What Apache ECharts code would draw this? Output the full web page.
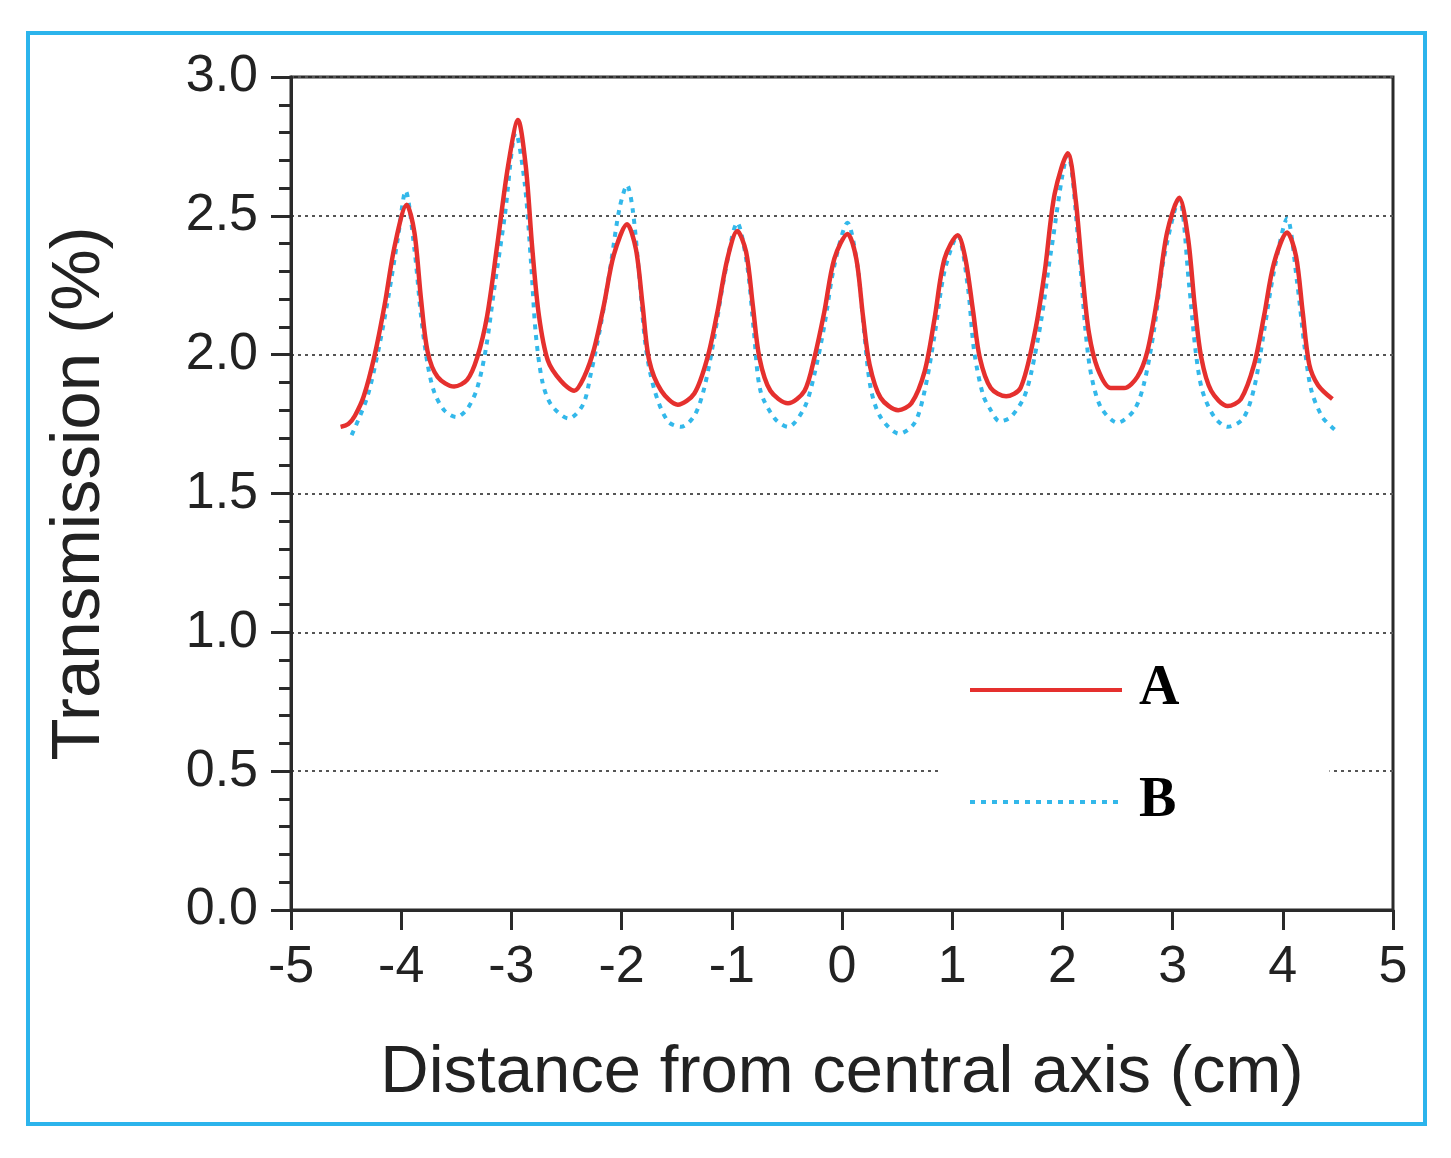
<!DOCTYPE html>
<html lang="en">
<head>
    <meta charset="UTF-8">
    <title>Transmission</title>
    <script src="https://cdn.jsdelivr.net/npm/echarts@6/dist/echarts.min.js"></script>
    <style>
        html, body { margin: 0; padding: 0; background: #fff; }
        #frame {
            position: absolute; left: 26px; top: 31px;
            width: 1393px; height: 1087px;
            border: 4px solid #2cb4ec;
        }
        #chart { position: absolute; left: 0; top: 0; width: 1451px; height: 1158px; }
    </style>
</head>
<body>
<div id="frame"></div>
<div id="chart"></div>
<script type="text/javascript">
    // curve A (solid red)
    var aX = [-4.55, -4.48, -4.42, -4.34, -4.24, -4.15, -4.06, -3.95, -3.88, -3.82, -3.76, -3.67, -3.52, -3.40, -3.31, -3.22, -3.13, -3.03, -2.94, -2.87, -2.81, -2.75, -2.67, -2.55, -2.43, -2.34, -2.25, -2.16, -2.07, -1.95, -1.87, -1.81, -1.75, -1.64, -1.49, -1.34, -1.22, -1.13, -1.04, -0.95, -0.87, -0.81, -0.75, -0.65, -0.49, -0.34, -0.25, -0.16, -0.07, 0.05, 0.13, 0.19, 0.25, 0.35, 0.51, 0.63, 0.75, 0.84, 0.93, 1.05, 1.12, 1.19, 1.25, 1.35, 1.49, 1.62, 1.75, 1.84, 1.93, 2.05, 2.12, 2.18, 2.24, 2.32, 2.44, 2.56, 2.68, 2.77, 2.86, 2.95, 3.06, 3.14, 3.20, 3.26, 3.35, 3.50, 3.62, 3.74, 3.83, 3.92, 4.04, 4.12, 4.18, 4.24, 4.32, 4.45];
    var aY = [1.74, 1.75, 1.78, 1.85, 2.00, 2.18, 2.39, 2.54, 2.44, 2.20, 2.01, 1.92, 1.885, 1.91, 1.99, 2.14, 2.39, 2.68, 2.845, 2.68, 2.38, 2.14, 1.98, 1.905, 1.87, 1.92, 2.02, 2.18, 2.36, 2.47, 2.38, 2.18, 1.98, 1.87, 1.82, 1.86, 1.99, 2.155, 2.345, 2.445, 2.37, 2.18, 1.99, 1.87, 1.825, 1.87, 1.99, 2.155, 2.345, 2.435, 2.345, 2.14, 1.965, 1.845, 1.80, 1.825, 1.94, 2.13, 2.345, 2.43, 2.345, 2.155, 1.99, 1.88, 1.85, 1.88, 2.08, 2.30, 2.58, 2.725, 2.56, 2.30, 2.08, 1.95, 1.88, 1.88, 1.92, 2.01, 2.20, 2.44, 2.565, 2.42, 2.18, 1.99, 1.87, 1.815, 1.84, 1.965, 2.14, 2.33, 2.44, 2.355, 2.155, 1.965, 1.89, 1.84];

    // curve B (dotted blue)
    var bX = [-4.45, -4.31, -4.21, -4.12, -4.03, -3.96, -3.88, -3.82, -3.76, -3.70, -3.61, -3.50, -3.40, -3.31, -3.23, -3.16, -3.06, -2.96, -2.88, -2.82, -2.78, -2.72, -2.64, -2.48, -2.35, -2.28, -2.19, -2.10, -2.02, -1.95, -1.90, -1.84, -1.78, -1.70, -1.58, -1.46, -1.34, -1.25, -1.16, -1.07, -0.95, -0.86, -0.80, -0.74, -0.61, -0.49, -0.34, -0.25, -0.16, -0.07, 0.05, 0.14, 0.20, 0.26, 0.35, 0.52, 0.66, 0.75, 0.84, 0.93, 1.05, 1.14, 1.20, 1.28, 1.35, 1.43, 1.53, 1.65, 1.72, 1.81, 1.90, 2.05, 2.15, 2.21, 2.26, 2.35, 2.50, 2.65, 2.74, 2.83, 2.92, 3.06, 3.15, 3.21, 3.27, 3.38, 3.50, 3.64, 3.74, 3.83, 3.92, 4.04, 4.13, 4.20, 4.26, 4.36, 4.47];
    var bY = [1.71, 1.845, 2.01, 2.20, 2.42, 2.59, 2.38, 2.14, 1.965, 1.865, 1.80, 1.775, 1.805, 1.88, 2.025, 2.225, 2.50, 2.80, 2.62, 2.32, 2.08, 1.905, 1.82, 1.77, 1.82, 1.93, 2.105, 2.32, 2.525, 2.61, 2.525, 2.285, 2.025, 1.87, 1.76, 1.74, 1.78, 1.88, 2.06, 2.275, 2.475, 2.32, 2.085, 1.87, 1.77, 1.74, 1.81, 1.93, 2.105, 2.32, 2.475, 2.32, 2.085, 1.88, 1.775, 1.715, 1.755, 1.87, 2.07, 2.30, 2.43, 2.25, 2.01, 1.855, 1.80, 1.76, 1.775, 1.845, 1.94, 2.13, 2.38, 2.72, 2.38, 2.085, 1.93, 1.81, 1.755, 1.80, 1.895, 2.085, 2.345, 2.56, 2.25, 2.01, 1.87, 1.775, 1.74, 1.77, 1.88, 2.085, 2.30, 2.49, 2.26, 2.02, 1.87, 1.775, 1.73];

    var xTicks = [-5, 5, 1];     // min, max, step
    var yTicks = [0, 3, 0.5];

    function pairs(xs, ys) {
        return xs.map(function (x, i) { return [x, ys[i]]; });
    }

    var myChart = echarts.init(document.getElementById('chart'));
    var axisFont = '"Liberation Sans", Arial, sans-serif';
    var ink = '#2a2a2a';

    myChart.setOption({
        animation: false,
        grid: {
            left: 291, right: 58, top: 77, bottom: 248,
            show: true, borderColor: ink, borderWidth: 3
        },
        legend: {
            orient: 'vertical',
            left: 940, top: 646,
            padding: [16, 150, 20, 28],
            backgroundColor: '#fff',
            itemWidth: 152, itemHeight: 12,
            itemGap: 56,
            data: ['A', 'B'],
            itemStyle: { opacity: 0 },
            lineStyle: { width: 4 },
            textStyle: {
                fontFamily: '"Liberation Serif", "Times New Roman", serif',
                fontWeight: 'bold', fontSize: 56, color: '#000',
                padding: [0, 0, 0, 12]
            }
        },
        xAxis: {
            type: 'value',
            min: xTicks[0], max: xTicks[1], interval: xTicks[2],
            name: 'Distance from central axis (cm)',
            nameLocation: 'middle', nameGap: 130,
            nameTextStyle: { fontFamily: axisFont, fontSize: 67, color: '#222' },
            axisLine: { onZero: false, lineStyle: { color: ink, width: 3 } },
            axisTick: { length: 20, lineStyle: { color: ink, width: 3 } },
            axisLabel: { fontFamily: axisFont, fontSize: 52, color: '#222', margin: 32 },
            splitLine: { show: false }
        },
        yAxis: {
            type: 'value',
            min: yTicks[0], max: yTicks[1], interval: yTicks[2],
            name: 'Transmission (%)',
            nameLocation: 'middle', nameGap: 177,
            nameTextStyle: { fontFamily: axisFont, fontSize: 69, color: '#222' },
            axisLine: { onZero: false, lineStyle: { color: ink, width: 3 } },
            axisTick: { length: 20, lineStyle: { color: ink, width: 3 } },
            minorTick: { show: true, splitNumber: 5, length: 12, lineStyle: { color: ink, width: 3 } },
            axisLabel: {
                fontFamily: axisFont, fontSize: 52, color: '#222', margin: 33,
                formatter: function (v) { return v.toFixed(1); }
            },
            splitLine: { show: true, lineStyle: { color: '#555', type: [3, 4], width: 2 } }
        },
        series: [
            {
                name: 'B',
                type: 'line',
                showSymbol: false,
                symbol: 'none',
                smooth: 0.3,
                lineStyle: { color: '#33b8ea', width: 4, type: [5, 6] },
                itemStyle: { color: '#33b8ea' },
                data: pairs(bX, bY)
            },
            {
                name: 'A',
                type: 'line',
                showSymbol: false,
                symbol: 'none',
                smooth: 0.3,
                lineStyle: { color: '#e5302e', width: 4.5 },
                itemStyle: { color: '#e5302e' },
                data: pairs(aX, aY)
            }
        ]
    });
</script>
</body>
</html>
